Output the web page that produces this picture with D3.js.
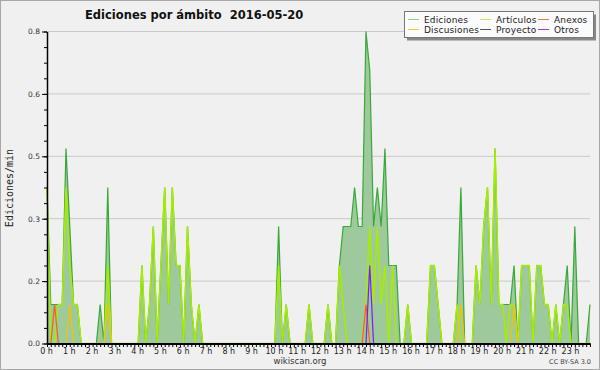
<!DOCTYPE html>
<html>
<head>
<meta charset="utf-8">
<script src="https://cdn.jsdelivr.net/npm/d3@7"></script>
<style>
body { margin: 0; background: #f0f0f0; }
svg { display: block; font-family: "DejaVu Sans", sans-serif; }
</style>
</head>
<body>
<script>
// edits per minute, one value per 10-minute slot (144 slots, 00:00 -> 23:50)
var ediciones = [
	0.4,0.1,0.1,0.1,0.1,0.5,0.3,0.1,0.1,0,0,0,
	0,0,0.1,0,0.4,0,0,0,0,0,0,0,
	0,0.2,0,0.1,0.3,0,0.2,0.4,0.1,0.4,0.2,0.2,
	0,0.3,0.1,0,0.1,0,0,0,0,0,0,0,
	0,0,0,0,0,0,0,0,0,0,0,0,
	0,0.3,0,0.1,0,0,0,0,0,0.1,0,0,
	0,0,0.1,0,0,0.2,0.3,0.3,0.3,0.4,0.3,0.3,
	0.8,0.7,0.3,0.4,0.3,0.5,0.2,0.2,0.2,0,0,0.1,
	0,0,0,0,0,0.2,0.2,0.1,0,0,0,0,
	0.1,0.4,0,0,0,0.2,0.1,0.3,0.4,0.1,0.5,0.1,
	0.1,0.1,0.1,0.2,0,0.2,0.2,0.2,0,0.2,0.2,0.1,
	0.1,0,0.1,0,0.1,0.2,0,0.3,0,0,0,0.1
];
var articulos = [
	0.4,0,0,0.1,0.1,0.4,0.2,0.1,0.1,0,0,0,
	0,0,0,0,0.2,0,0,0,0,0,0,0,
	0,0.2,0,0.1,0.3,0,0.2,0.4,0.1,0.4,0.2,0.2,
	0,0.3,0.1,0,0.1,0,0,0,0,0,0,0,
	0,0,0,0,0,0,0,0,0,0,0,0,
	0,0.2,0,0.1,0,0,0,0,0,0.1,0,0,
	0,0,0.1,0,0,0.2,0.1,0,0,0,0,0,
	0.1,0.3,0.1,0.3,0.1,0.2,0,0.2,0,0,0,0.1,
	0,0,0,0,0,0.2,0.2,0.1,0,0,0,0,
	0.1,0,0,0,0,0.2,0.1,0.3,0.4,0.1,0.5,0.1,
	0.1,0,0.1,0.1,0,0.2,0.2,0.2,0,0.2,0.2,0.1,
	0.1,0,0.1,0,0.1,0.1,0,0,0,0,0,0
];
var discusiones = [
	0,0,0,0,0,0,0.1,0,0,0,0,0,
	0,0,0,0,0.1,0,0,0,0,0,0,0,
	0,0,0,0,0,0,0,0,0,0,0,0,
	0,0,0,0,0,0,0,0,0,0,0,0,
	0,0,0,0,0,0,0,0,0,0,0,0,
	0,0,0,0,0,0,0,0,0,0,0,0,
	0,0,0,0,0,0,0,0,0,0,0,0,
	0,0,0,0,0,0,0,0,0,0,0,0,
	0,0,0,0,0,0,0,0,0,0,0,0,
	0,0.1,0,0,0,0,0,0,0,0,0,0,
	0,0,0,0.1,0,0,0,0,0,0,0,0,
	0,0,0,0,0,0,0,0,0,0,0,0
];
var anexos = [
	0,0,0.1,0,0,0,0,0,0,0,0,0,
	0,0,0,0,0,0,0,0,0,0,0,0,
	0,0,0,0,0,0,0,0,0,0,0,0,
	0,0,0,0,0,0,0,0,0,0,0,0,
	0,0,0,0,0,0,0,0,0,0,0,0,
	0,0,0,0,0,0,0,0,0,0,0,0,
	0,0,0,0,0,0,0,0,0,0,0,0,
	0.1,0,0,0,0,0,0,0,0,0,0,0,
	0,0,0,0,0,0,0,0,0,0,0,0,
	0,0,0,0,0,0,0,0,0,0,0,0,
	0,0,0,0,0,0,0,0,0,0,0,0,
	0,0,0,0,0,0,0,0,0,0,0,0
];
var proyecto = d3.range(144).map(function () { return 0; }); // nothing visible for this day
var otros = [
	0,0,0,0,0,0,0,0,0,0,0,0,
	0,0,0,0,0,0,0,0,0,0,0,0,
	0,0,0,0,0,0,0,0,0,0,0,0,
	0,0,0,0,0,0,0,0,0,0,0,0,
	0,0,0,0,0,0,0,0,0,0,0,0,
	0,0,0,0,0,0,0,0,0,0,0,0,
	0,0,0,0,0,0,0,0,0,0,0,0,
	0,0.2,0,0,0,0,0,0,0,0,0,0,
	0,0,0,0,0,0,0,0,0,0,0,0,
	0,0,0,0,0,0,0,0,0,0,0,0,
	0,0,0,0,0,0,0,0,0,0,0,0,
	0,0,0,0,0,0,0,0,0,0,0,0
];

var yTicks = [0, 0.16, 0.32, 0.48, 0.64, 0.8];
var hours = d3.range(24);
var legendNames = ["Ediciones", "Artículos", "Anexos", "Discusiones", "Proyecto", "Otros"];
var legendColors = ["#8fd08f", "#c8ee50", "#f07a40", "#f5cc30", "#555555", "#9040f0"];

var W = 600, H = 370;
var svg = d3.select("body").append("svg")
	.attr("width", W)
	.attr("height", H);

svg.append("rect")
	.attr("x", 0.5).attr("y", 0.5)
	.attr("width", W - 1).attr("height", H - 1)
	.attr("fill", "#f0f0f0")
	.attr("stroke", "#a8a8a8");

var x = d3.scaleLinear().domain([0, 143]).range([47, 590]);
var y = d3.scaleLinear().domain([0, 0.8]).range([343.5, 31.5]);

// grid
svg.append("g")
	.selectAll("line")
	.data(yTicks.slice(1))
	.join("line")
	.attr("x1", 47).attr("x2", 590)
	.attr("y1", function (d) { return y(d); })
	.attr("y2", function (d) { return y(d); })
	.attr("stroke", "#c9c9c9");

// total edits as filled area
var area = d3.area()
	.x(function (d, i) { return x(i); })
	.y0(y(0))
	.y1(function (d) { return y(d); });

var line = d3.line()
	.x(function (d, i) { return x(i); })
	.y(function (d) { return y(d); });

svg.append("path")
	.datum(ediciones)
	.attr("d", area)
	.attr("fill", "#9dc99d");

svg.append("path")
	.datum(ediciones)
	.attr("d", line)
	.attr("fill", "none")
	.attr("stroke", "#38a838")
	.attr("stroke-width", 1.2);

var series = [
	{ values: articulos, color: "#a8ec00", w: 1.5 },
	{ values: discusiones, color: "#f2c400", w: 1.2 },
	{ values: proyecto, color: "#444444", w: 1.2 },
	{ values: anexos, color: "#ff5a1a", w: 1.2 },
	{ values: otros, color: "#7a1cff", w: 1.2 }
];

series.forEach(function (s) {
	svg.append("path")
		.datum(s.values)
		.attr("d", line)
		.attr("fill", "none")
		.attr("stroke", s.color)
		.attr("stroke-width", s.w)
		.attr("stroke-linejoin", "miter");
});

// y axis: major + minor ticks
var yMajor = svg.append("g")
	.attr("transform", "translate(47,0)")
	.call(d3.axisLeft(y).tickValues(yTicks).tickSize(5).tickSizeOuter(0)
		.tickFormat(d3.format(".1f")));
yMajor.select(".domain").attr("stroke", "#000").attr("stroke-width", 1.5);
yMajor.selectAll(".tick text")
	.attr("x", -7)
	.attr("font-size", 7.5)
	.attr("font-family", "DejaVu Sans")
	.attr("fill", "#333");

svg.append("g")
	.attr("transform", "translate(47,0)")
	.call(d3.axisLeft(y).tickValues(d3.range(0, 0.801, 0.04)).tickSize(3).tickSizeOuter(0).tickFormat(""))
	.select(".domain").remove();

// x axis: one tick per 10 minutes, label every hour
var xAxis = svg.append("g")
	.attr("transform", "translate(0,343.5)")
	.call(d3.axisBottom(x).tickValues(d3.range(0, 144)).tickSize(3.5).tickSizeOuter(0).tickFormat(""));
xAxis.select(".domain").attr("stroke", "#000").attr("stroke-width", 2);

svg.append("g")
	.selectAll("text")
	.data(hours)
	.join("text")
	.attr("x", function (d) { return x(d * 6) - 0.5; })
	.attr("y", 354)
	.attr("text-anchor", "middle")
	.attr("font-size", 8)
	.attr("fill", "#222")
	.text(function (d) { return d + " h"; });

// title and labels
svg.append("text")
	.attr("x", 85).attr("y", 19)
	.attr("font-size", 11.5)
	.attr("font-weight", "bold")
	.attr("fill", "#111")
	.style("white-space", "pre")
	.text("Ediciones por ámbito  2016-05-20");

svg.append("text")
	.attr("transform", "translate(13,188) rotate(-90)")
	.attr("text-anchor", "middle")
	.attr("font-family", "DejaVu Sans Mono")
	.attr("font-size", 10)
	.attr("fill", "#222")
	.text("Ediciones/min");

svg.append("text")
	.attr("x", 300).attr("y", 364)
	.attr("text-anchor", "middle")
	.attr("font-size", 8.5)
	.attr("fill", "#333")
	.text("wikiscan.org");

svg.append("text")
	.attr("x", 591).attr("y", 364)
	.attr("text-anchor", "end")
	.attr("font-size", 6.5)
	.attr("fill", "#444")
	.text("CC BY-SA 3.0");

// legend
var lg = svg.append("g");
lg.append("rect")
	.attr("x", 407).attr("y", 14.5)
	.attr("width", 189).attr("height", 26)
	.attr("fill", "#888");
lg.append("rect")
	.attr("x", 404.5).attr("y", 11.5)
	.attr("width", 189).attr("height", 26)
	.attr("fill", "#fbfbfb")
	.attr("stroke", "#777");

var colX = [408, 480, 538];
var rowY = [19.5, 29.5];
var items = lg.selectAll(".item")
	.data(legendNames)
	.join("g")
	.attr("class", "item")
	.attr("transform", function (d, i) {
		return "translate(" + colX[i % 3] + "," + rowY[Math.floor(i / 3)] + ")";
	});
items.append("line")
	.attr("x1", 0).attr("x2", 11)
	.attr("stroke", function (d, i) { return legendColors[i]; })
	.attr("stroke-width", 1);
items.append("text")
	.attr("x", 16)
	.attr("dy", "0.35em")
	.attr("font-size", 9)
	.attr("letter-spacing", 0.15)
	.attr("fill", "#222")
	.text(function (d) { return d; });
</script>
</body>
</html>
